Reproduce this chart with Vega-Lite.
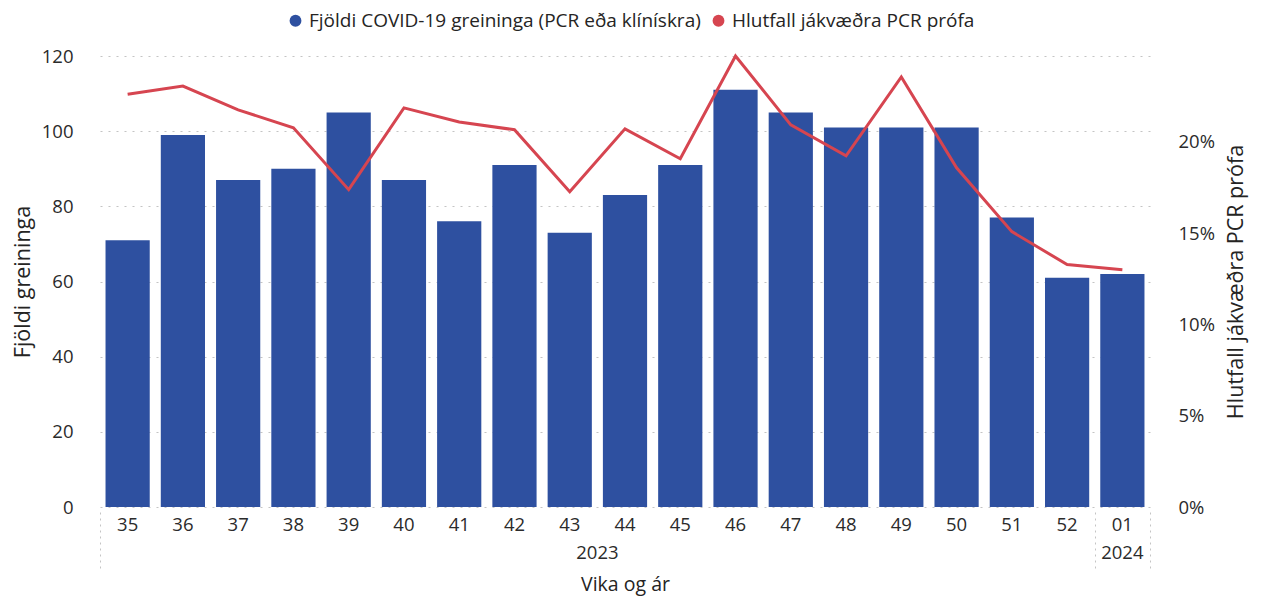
{
  "$schema": "https://vega.github.io/schema/vega-lite/v6.json",
  "width": 1050,
  "height": 451,
  "autosize": {"type": "none"},
  "padding": {"left": 100, "top": 56, "right": 113, "bottom": 91},
  "config": {
    "view": {"stroke": null},
    "font": "Open Sans",
    "axis": {"labelColor": "#2b2b2b", "titleColor": "#252423", "labelFontSize": 18.5, "titleFontSize": 21, "titleFontWeight": "normal", "labelFont": "Open Sans", "titleFont": "Open Sans"},
    "legend": {"labelFont": "Open Sans", "labelFontSize": 19, "labelColor": "#252423", "labelLimit": 1000}
  },
  "data": {
    "values": [
      {"wk": "35", "yr": "2023", "n": 71, "p": 0.226},
      {"wk": "36", "yr": "2023", "n": 99, "p": 0.2305},
      {"wk": "37", "yr": "2023", "n": 87, "p": 0.2175},
      {"wk": "38", "yr": "2023", "n": 90, "p": 0.2077},
      {"wk": "39", "yr": "2023", "n": 105, "p": 0.1738},
      {"wk": "40", "yr": "2023", "n": 87, "p": 0.2186},
      {"wk": "41", "yr": "2023", "n": 76, "p": 0.2109},
      {"wk": "42", "yr": "2023", "n": 91, "p": 0.2066},
      {"wk": "43", "yr": "2023", "n": 73, "p": 0.1727},
      {"wk": "44", "yr": "2023", "n": 83, "p": 0.2071},
      {"wk": "45", "yr": "2023", "n": 91, "p": 0.1907},
      {"wk": "46", "yr": "2023", "n": 111, "p": 0.247},
      {"wk": "47", "yr": "2023", "n": 105, "p": 0.2093},
      {"wk": "48", "yr": "2023", "n": 101, "p": 0.1923},
      {"wk": "49", "yr": "2023", "n": 101, "p": 0.2355},
      {"wk": "50", "yr": "2023", "n": 101, "p": 0.1858},
      {"wk": "51", "yr": "2023", "n": 77, "p": 0.1508},
      {"wk": "52", "yr": "2023", "n": 61, "p": 0.1328},
      {"wk": "01", "yr": "2024", "n": 62, "p": 0.130}
    ]
  },
  "layer": [
    {
      "mark": {"type": "bar", "width": {"band": 0.8}},
      "encoding": {
        "x": {
          "field": "wk", "type": "nominal", "sort": null,
          "scale": {"paddingInner": 0, "paddingOuter": 0},
          "axis": {"orient": "bottom", "title": null, "labelAngle": 0, "ticks": false, "tickSize": 0, "domain": false, "grid": false, "labelPadding": 8}
        },
        "y": {
          "field": "n", "type": "quantitative",
          "scale": {"domain": [0, 120]},
          "axis": {"orient": "left", "title": "Fjöldi greininga", "titleFontSize": 21.5, "values": [0, 20, 40, 60, 80, 100, 120], "ticks": false, "tickSize": 0, "domain": false, "labelPadding": 27, "titlePadding": 7, "grid": true, "gridDash": [2, 6], "gridColor": "#C4C4C4", "gridWidth": 1.2}
        },
        "color": {
          "datum": "Fjöldi COVID-19 greininga (PCR eða klínískra)", "type": "nominal",
          "scale": {"domain": ["Fjöldi COVID-19 greininga (PCR eða klínískra)", "Hlutfall jákvæðra PCR prófa"], "range": ["#2E50A0", "#D64550"]},
          "legend": {"orient": "none", "legendX": 186, "legendY": -45, "direction": "horizontal", "title": null, "symbolType": "circle", "symbolSize": 140, "columnPadding": 8, "labelOffset": 4, "symbolStrokeWidth": 0, "encode": {"symbols": {"update": {"fill": {"scale": "color", "field": "value"}, "strokeWidth": {"value": 0}}}}}
        }
      }
    },
    {
      "mark": {"type": "line", "strokeWidth": 3},
      "encoding": {
        "x": {
          "field": "wk", "type": "nominal", "sort": null,
          "axis": {"orient": "bottom", "title": "Vika og ár", "titleFontSize": 19.5, "titlePadding": 14, "values": ["44", "01"], "labelExpr": "datum.value == '01' ? '2024' : '2023'", "labelAngle": 0, "ticks": false, "tickSize": 0, "domain": false, "grid": false, "labelPadding": 36, "labelOffset": {"condition": {"test": "datum.value == '44'", "value": -27.6}, "value": 0}}
        },
        "y": {
          "field": "p", "type": "quantitative",
          "scale": {"domain": [0, 0.247]},
          "axis": {"orient": "right", "title": "Hlutfall jákvæðra PCR prófa", "titleFontSize": 21.5, "titleAngle": 270, "titleBaseline": "top", "values": [0, 0.05, 0.1, 0.15, 0.2], "format": ".0%", "ticks": false, "tickSize": 0, "domain": false, "grid": false, "labelPadding": 28, "titlePadding": 11}
        },
        "color": {
          "datum": "Hlutfall jákvæðra PCR prófa", "type": "nominal"
        }
      }
    },
    {
      "mark": {"type": "point", "opacity": 0},
      "encoding": {
        "x": {
          "field": "wk", "type": "nominal", "sort": null,
          "axis": {"orient": "bottom", "title": null, "labels": false, "domain": false, "grid": false, "values": ["35", "52", "01"], "tickBand": "extent", "offset": 5, "tickSize": 57, "tickWidth": 1, "tickColor": "#C4C4C4", "tickDash": [2, 4], "tickOpacity": {"condition": {"test": "datum.value == '35' && datum.index == 0", "value": 0}, "value": 1}}
        }
      }
    }
  ],
  "resolve": {"scale": {"y": "independent"}, "axis": {"x": "independent", "y": "independent"}}
}
